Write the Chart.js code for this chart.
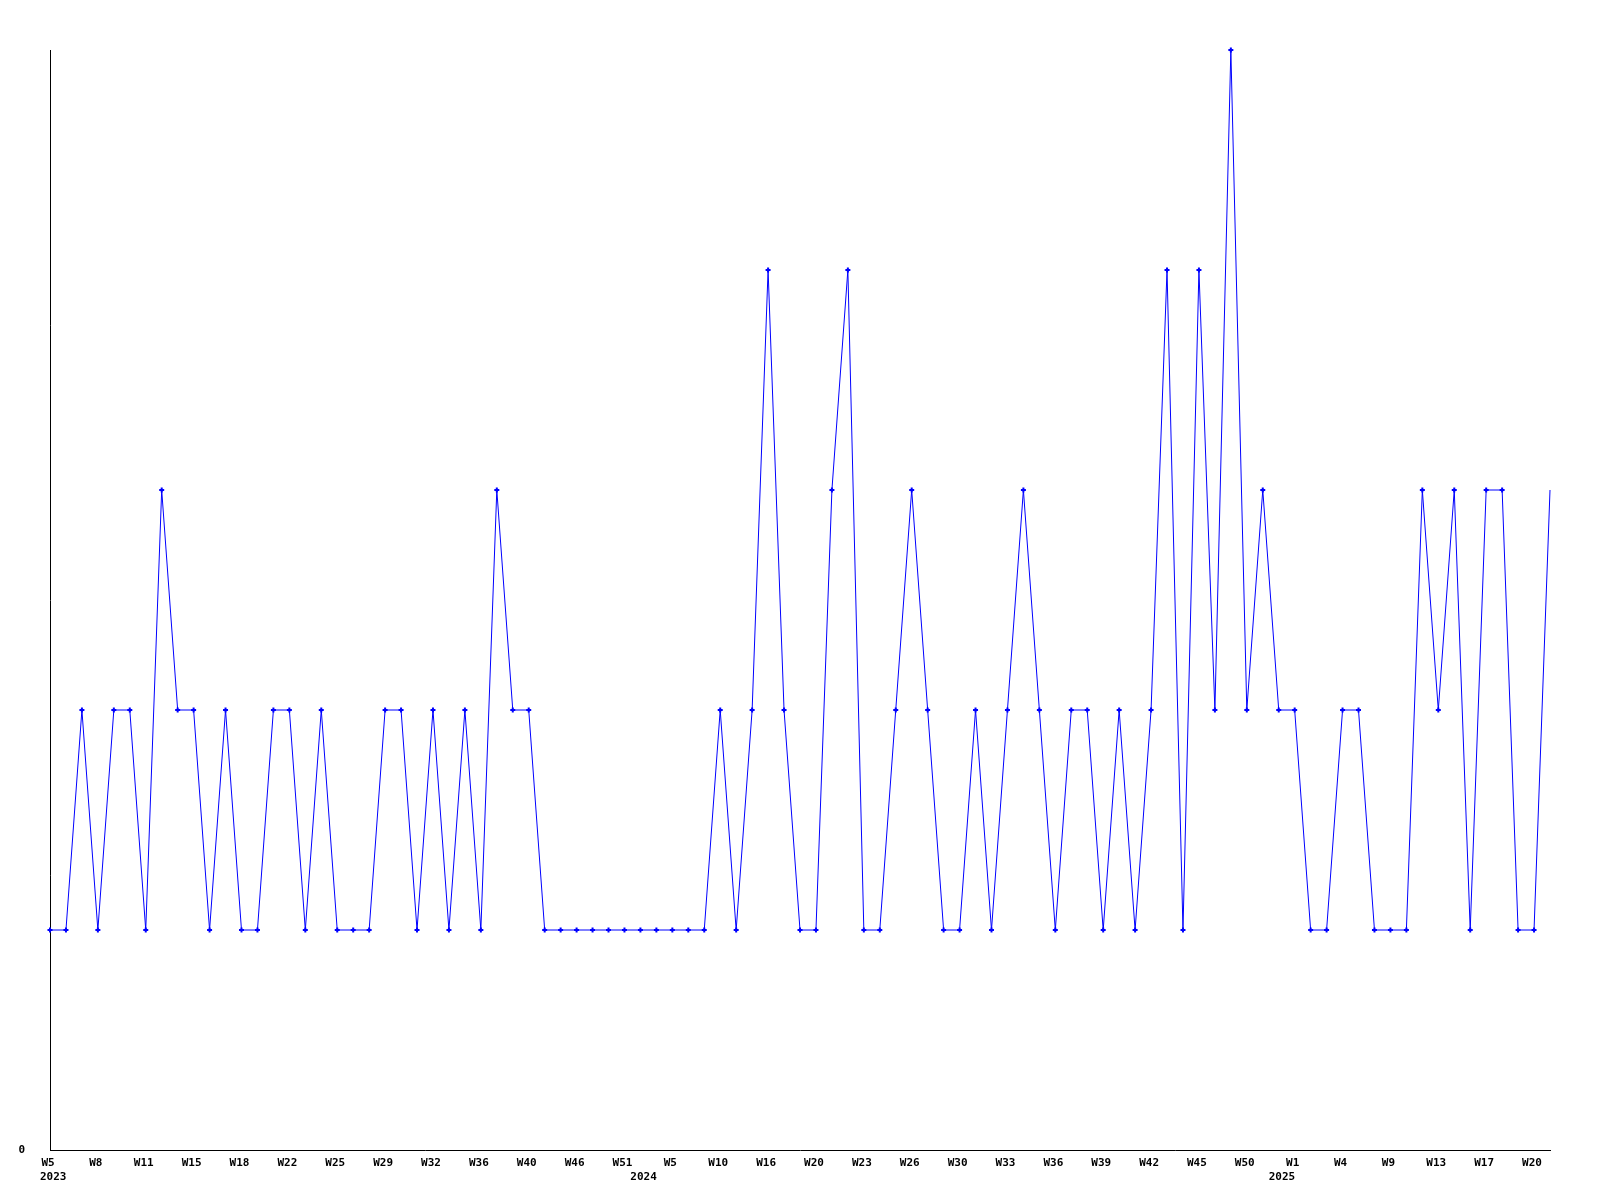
<!DOCTYPE html>
<html>
<head>
<meta charset="utf-8">
<script src="https://cdn.jsdelivr.net/npm/chart.js@4.4.1/dist/chart.umd.min.js"></script>
<style>
  body { margin: 0; background: #fff; }
  #wrap { width: 1600px; height: 1200px; }
</style>
</head>
<body>
<div id="wrap"><canvas id="weeklyChart" width="1600" height="1200"></canvas></div>
<script>
// --- data ---
// one value per week that has data (95 points)
const weeklyValues = [
    1, 1, 2, 1, 2, 2, 1, 3, 2, 2,
    1, 2, 1, 1, 2, 2, 1, 2, 1, 1,
    1, 2, 2, 1, 2, 1, 2, 1, 3, 2,
    2, 1, 1, 1, 1, 1, 1, 1, 1, 1,
    1, 1, 2, 1, 2, 4, 2, 1, 1, 3,
    4, 1, 1, 2, 3, 2, 1, 1, 2, 1,
    2, 3, 2, 1, 2, 2, 1, 2, 1, 2,
    4, 1, 4, 2, 5, 2, 3, 2, 2, 1,
    1, 2, 2, 1, 1, 1, 3, 2, 3, 1,
    3, 3, 1, 1, 3
];

// week labels shown on every third point
const weekTicks = [
    'W5', 'W8', 'W11', 'W15', 'W18', 'W22', 'W25', 'W29', 'W32', 'W36', 'W40',
    'W46', 'W51', 'W5', 'W10', 'W16', 'W20', 'W23', 'W26', 'W30', 'W33', 'W36',
    'W39', 'W42', 'W45', 'W50', 'W1', 'W4', 'W9', 'W13', 'W17', 'W20'
];

// year captions under the week row, and the (fractional) point index they sit at
const yearLabels = ['2023', '2024', '2025'];
const yearIndex = [0.2, 37.2, 77.2];

const categories = weeklyValues.map((v, i) => (i % 3 === 0 ? weekTicks[i / 3] : ''));

Chart.defaults.font.family = '"DejaVu Sans Mono", "Liberation Mono", monospace';
Chart.defaults.font.size = 11;
Chart.defaults.font.weight = 'bold';
Chart.defaults.color = '#000';

// draws the year row below the week labels
const yearRow = {
    id: 'yearRow',
    afterDraw(chart) {
        const ctx = chart.ctx;
        const xScale = chart.scales.x;
        ctx.save();
        ctx.font = 'bold 11px "DejaVu Sans Mono", monospace';
        ctx.fillStyle = '#000';
        ctx.textAlign = 'center';
        ctx.textBaseline = 'middle';
        yearLabels.forEach((label, i) => {
            ctx.fillText(label, xScale.getPixelForValue(yearIndex[i]), chart.chartArea.bottom + 27);
        });
        ctx.restore();
    }
};

const ctx = document.getElementById('weeklyChart').getContext('2d');
new Chart(ctx, {
    type: 'line',
    data: {
        labels: categories,
        datasets: [{
            data: weeklyValues,
            borderColor: '#0000ff',
            backgroundColor: '#0000ff',
            borderWidth: 1,
            tension: 0,
            fill: false,
            clip: false,
            pointStyle: 'cross',
            pointRadius: (c) => (c.dataIndex === weeklyValues.length - 1 ? 0 : 2.5),
            pointBorderWidth: 2,
            pointBorderColor: '#0000ff'
        }]
    },
    options: {
        responsive: false,
        animation: false,
        layout: { padding: { top: 50, right: 50, left: 0, bottom: 0 } },
        plugins: {
            legend: { display: false },
            tooltip: { enabled: false }
        },
        scales: {
            x: {
                offset: false,
                grid: { display: false, drawTicks: false },
                border: { display: true, color: '#000', width: 1 },
                ticks: {
                    autoSkip: false,
                    maxRotation: 0,
                    padding: 7,
                    labelOffset: -2,
                    color: '#000'
                },
                afterFit(scale) { scale.height = 50; }
            },
            y: {
                min: 0,
                max: 5,
                grid: { display: false, drawTicks: false },
                border: { display: true, color: '#000', width: 1 },
                ticks: {
                    stepSize: 5,
                    padding: 25,
                    color: '#000',
                    callback: (value) => (value === 0 ? '0' : '')
                },
                afterFit(scale) { scale.width = 50; }
            }
        }
    },
    plugins: [yearRow]
});
</script>
</body>
</html>
